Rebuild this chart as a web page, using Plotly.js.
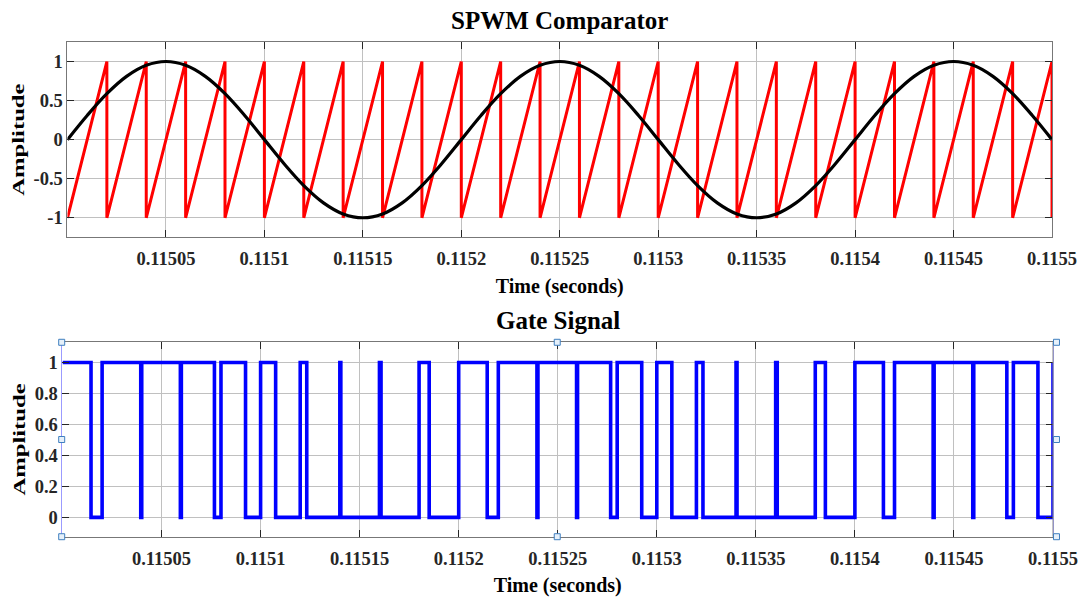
<!DOCTYPE html>
<html>
<head>
<meta charset="utf-8">
<script src="https://cdn.plot.ly/plotly-3.0.1.min.js"></script>
<style>
  html, body { margin: 0; padding: 0; background: #ffffff; }
  #chart { width: 1085px; height: 598px; }
</style>
</head>
<body>
<div id="chart"></div>
<script>
// Time window starts at 0.115 s; offsets below are in microseconds.
const T0 = 0.115;
const US = 1e-6;

// Reference sinusoid (modulating signal), sampled every 10 us
const sineOffsetUs = [0, 10, 20, 30, 40, 50, 60, 70, 80, 90,
  100, 110, 120, 130, 140, 150, 160, 170, 180, 190,
  200, 210, 220, 230, 240, 250, 260, 270, 280, 290,
  300, 310, 320, 330, 340, 350, 360, 370, 380, 390,
  400, 410, 420, 430, 440, 450, 460, 470, 480, 490, 500];
const sineValue = [0, 0.309, 0.588, 0.809, 0.951, 1, 0.951, 0.809, 0.588, 0.309,
  0, -0.309, -0.588, -0.809, -0.951, -1, -0.951, -0.809, -0.588, -0.309,
  0, 0.309, 0.588, 0.809, 0.951, 1, 0.951, 0.809, 0.588, 0.309,
  0, -0.309, -0.588, -0.809, -0.951, -1, -0.951, -0.809, -0.588, -0.309,
  0, 0.309, 0.588, 0.809, 0.951, 1, 0.951, 0.809, 0.588, 0.309, 0];

// Sawtooth carrier: ramps from -1 to 1 every 20 us, then snaps back
const sawOffsetUs = [0,
  20, 20, 40, 40, 60, 60, 80, 80, 100, 100,
  120, 120, 140, 140, 160, 160, 180, 180, 200, 200,
  220, 220, 240, 240, 260, 260, 280, 280, 300, 300,
  320, 320, 340, 340, 360, 360, 380, 380, 400, 400,
  420, 420, 440, 440, 460, 460, 480, 480, 500, 500];
const sawLevel = [-1,
  1, -1, 1, -1, 1, -1, 1, -1, 1, -1,
  1, -1, 1, -1, 1, -1, 1, -1, 1, -1,
  1, -1, 1, -1, 1, -1, 1, -1, 1, -1,
  1, -1, 1, -1, 1, -1, 1, -1, 1, -1,
  1, -1, 1, -1, 1, -1, 1, -1, 1, -1];

// Gate signal switching instants (us) and the level held after each one
const gateOffsetUs = [0,
  14.4, 20, 39.5, 40, 59.5, 60, 76.7, 80, 92.4, 100,
  107.6, 120, 123.3, 140, 140.5, 160, 160.8, 180, 185.1, 200,
  214.4, 220, 239.5, 240, 259.5, 260, 276.7, 280, 292.4, 300,
  307.6, 320, 323.3, 340, 340.5, 360, 360.8, 380, 385.1, 400,
  414.4, 420, 439.5, 440, 459.5, 460, 476.7, 480, 492.4, 500];
const gateLevel = [1,
  0, 1, 0, 1, 0, 1, 0, 1, 0, 1,
  0, 1, 0, 1, 0, 1, 0, 1, 0, 1,
  0, 1, 0, 1, 0, 1, 0, 1, 0, 1,
  0, 1, 0, 1, 0, 1, 0, 1, 0, 1,
  0, 1, 0, 1, 0, 1, 0, 1, 0, 1];

// Axis ticks
const timeTickVals = [0.11505, 0.1151, 0.11515, 0.1152, 0.11525, 0.1153, 0.11535, 0.1154, 0.11545, 0.1155];
const timeTickText = ['0.11505', '0.1151', '0.11515', '0.1152', '0.11525', '0.1153', '0.11535', '0.1154', '0.11545', '0.1155'];
const ampTickVals = [-1, -0.5, 0, 0.5, 1];
const ampTickText = ['-1', '-0.5', '0', '0.5', '1'];
const gateTickVals = [0, 0.2, 0.4, 0.6, 0.8, 1];
const gateTickText = ['0', '0.2', '0.4', '0.6', '0.8', '1'];

const toSeconds = us => us.map(u => T0 + u * US);

const SERIF = 'Liberation Serif, Times New Roman, serif';
const tickFont = { family: SERIF, size: 18.5, color: '#262626', weight: 700 };
const axisTitleFont = { family: SERIF, size: 20, color: '#000000', weight: 700 };
const ampTitleFont = { family: SERIF, size: 17, color: '#000000', weight: 700 };

const traces = [
  {
    x: toSeconds(sawOffsetUs), y: sawLevel, xaxis: 'x', yaxis: 'y',
    mode: 'lines', line: { color: '#ff0000', width: 3 }, hoverinfo: 'skip'
  },
  {
    x: toSeconds(sineOffsetUs), y: sineValue, xaxis: 'x', yaxis: 'y',
    mode: 'lines', line: { color: '#000000', width: 3.2, shape: 'spline', smoothing: 1 }, hoverinfo: 'skip'
  },
  {
    x: toSeconds(gateOffsetUs), y: gateLevel, xaxis: 'x2', yaxis: 'y2',
    mode: 'lines', line: { color: '#0000ff', width: 3.6, shape: 'hv' }, hoverinfo: 'skip'
  }
];

const baseX = {
  range: [0.115, 0.1155], tickvals: timeTickVals, ticktext: timeTickText,
  showgrid: true, gridcolor: '#c0c0c0', gridwidth: 1, zeroline: false,
  showline: true, linecolor: '#777777', linewidth: 1, mirror: 'ticks',
  ticks: 'inside', ticklen: 7, tickcolor: '#262626', tickwidth: 1,
  tickfont: tickFont, ticklabelstandoff: 5, automargin: false, fixedrange: true
};
const baseY = {
  showgrid: true, gridcolor: '#c0c0c0', gridwidth: 1, zeroline: false,
  showline: true, linecolor: '#777777', linewidth: 1, mirror: 'ticks',
  ticks: 'inside', ticklen: 7, tickcolor: '#262626', tickwidth: 1,
  tickfont: tickFont, automargin: false, fixedrange: true
};

// Selection handles around the lower axes
const handlePos = [[0, 0], [0, 0.5], [0, 1], [0.5, 0], [0.5, 1], [1, 0], [1, 0.5], [1, 1]];
const handleShift = { 0: -0.8, 0.5: -0.5, 1: 3.5 };
const shapes = handlePos.map(([hx, hy]) => ({
  type: 'rect', xref: 'x2 domain', yref: 'y2 domain',
  xsizemode: 'pixel', ysizemode: 'pixel', xanchor: hx, yanchor: hy,
  x0: handleShift[hx] - 3, x1: handleShift[hx] + 3, y0: -3, y1: 3,
  line: { color: '#3f7fbf', width: 1 }, fillcolor: '#e6f0fa', layer: 'above'
}));
// grey right border of the lower axes (the left one is highlighted)
shapes.unshift({
  type: 'line', xref: 'x2 domain', yref: 'y2 domain',
  x0: 1, x1: 1, y0: 0, y1: 1, line: { color: '#8a8a8a', width: 1 }, layer: 'above'
});

const layout = {
  width: 1085, height: 598,
  margin: { l: 0, r: 0, t: 0, b: 0 },
  paper_bgcolor: '#ffffff', plot_bgcolor: '#ffffff',
  showlegend: false,
  xaxis: Object.assign({}, baseX, {
    domain: [0.0622, 0.9696], anchor: 'y',
    title: { text: 'Time (seconds)', font: axisTitleFont, standoff: 10 }
  }),
  yaxis: Object.assign({}, baseY, {
    domain: [0.6032, 0.9298], anchor: 'x',
    range: [-1.25, 1.25], tickvals: ampTickVals, ticktext: ampTickText,
    title: { text: 'Amplitude', font: ampTitleFont, standoff: 4 }
  }),
  xaxis2: Object.assign({}, baseX, {
    domain: [0.0576, 0.9705], anchor: 'y2',
    title: { text: 'Time (seconds)', font: axisTitleFont, standoff: 10 }
  }),
  yaxis2: Object.assign({}, baseY, {
    domain: [0.1025, 0.4276], anchor: 'x2',
    range: [-0.125, 1.13], tickvals: gateTickVals, ticktext: gateTickText,
    linecolor: '#9b9bff',
    title: { text: 'Amplitude', font: ampTitleFont, standoff: 4 }
  }),
  annotations: [
    {
      text: 'SPWM Comparator', xref: 'x domain', yref: 'paper', x: 0.5, y: 1 - 21 / 598,
      xanchor: 'center', yanchor: 'middle', showarrow: false,
      font: { family: SERIF, size: 25, color: '#000000', weight: 700 }
    },
    {
      text: 'Gate Signal', xref: 'x2 domain', yref: 'paper', x: 0.5, y: 1 - 320 / 598,
      xanchor: 'center', yanchor: 'middle', showarrow: false,
      font: { family: SERIF, size: 25, color: '#000000', weight: 700 }
    }
  ],
  shapes: shapes
};

Plotly.newPlot('chart', traces, layout, { staticPlot: true, displayModeBar: false }).then(() => {
  // widen the rotated "Amplitude" labels along their reading direction
  document.querySelectorAll('text.ytitle, text.y2title').forEach(el => {
    const x = +el.getAttribute('x');
    const y = +el.getAttribute('y');
    const base = el.getAttribute('transform') || '';
    el.setAttribute('transform', base + ` translate(${x},${y}) scale(1.45,1) translate(${-x},${-y})`);
  });
});
</script>
</body>
</html>
